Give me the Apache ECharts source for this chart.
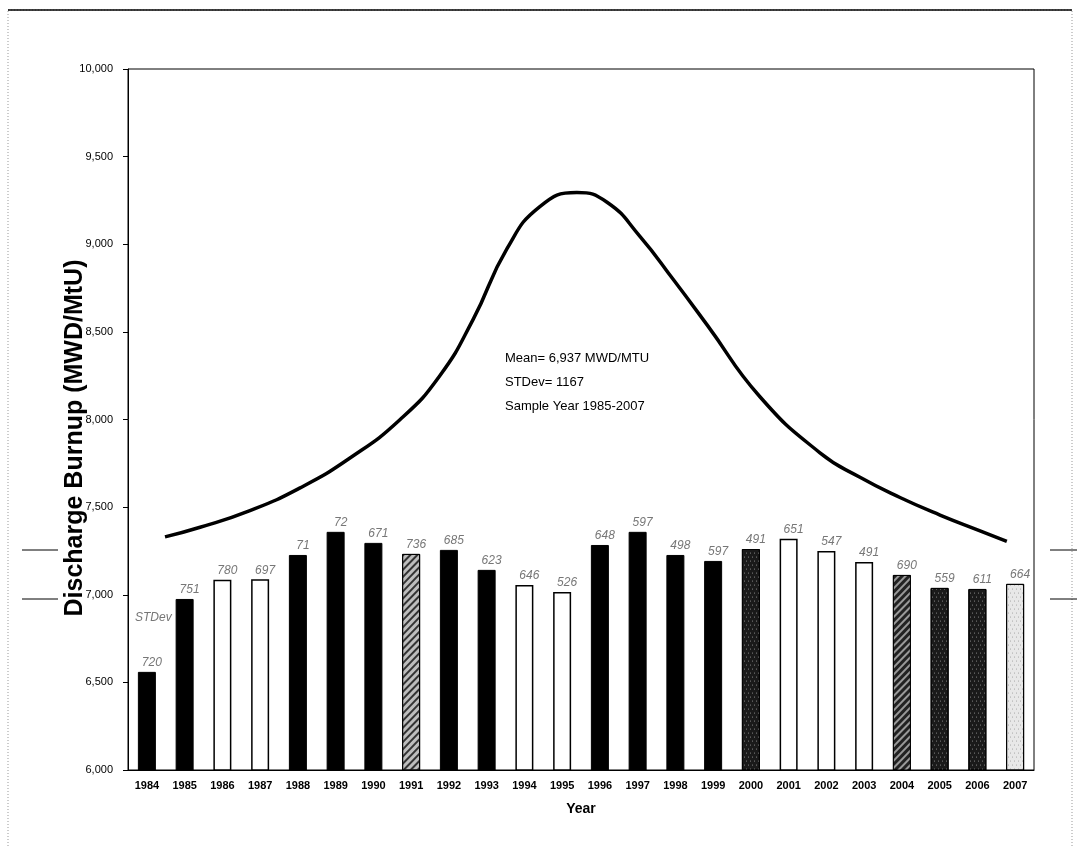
<!DOCTYPE html>
<html>
<head>
<meta charset="utf-8">
<script src="https://cdn.jsdelivr.net/npm/echarts@6/dist/echarts.min.js"></script>
<style>
  html, body { margin: 0; padding: 0; background: #fff; }
  #chart { width: 1077px; height: 848px; }
</style>
</head>
<body>
<div id="chart"></div>
<script>
// years on the x axis
var years = ['1984', '1985', '1986', '1987', '1988', '1989', '1990', '1991', '1992', '1993', '1994', '1995',
  '1996', '1997', '1998', '1999', '2000', '2001', '2002', '2003', '2004', '2005', '2006', '2007'];
// mean discharge burnup per year (MWD/MtU)
var burnup = [6560, 6976, 7085, 7088, 7227, 7359, 7296, 7233, 7256, 7142, 7056, 7016,
  7284, 7359, 7227, 7193, 7261, 7319, 7250, 7187, 7113, 7039, 7033, 7062];
// stdev label over each bar
var stdev = ['720', '751', '780', '697', '71', '72', '671', '736', '685', '623', '646', '526',
  '648', '597', '498', '597', '491', '651', '547', '491', '690', '559', '611', '664'];
// distribution curve, x in years
var curveYear = [1984.48, 1985.41, 1986.73, 1988.06, 1989.38, 1990.71, 1991.76, 1992.64, 1993.54, 1994.41,
  1995.39, 1996.19, 1997.06, 1997.94, 1998.84, 2000.24, 2001.83, 2002.89,
  2003.95, 2005.01, 2006.07, 2006.78];
var curveValue = [7330, 7385, 7480, 7610, 7780, 8000, 8250, 8570, 8975, 9215,
  9295, 9240, 9045, 8800, 8540, 8130, 7810, 7670,
  7555, 7455, 7365, 7305];
var yTicks = [6000, 10000, 500];

// fill kind per bar (style only)
var fillKind = ['black', 'black', 'white', 'white', 'black', 'black', 'black', 'hatch', 'black', 'black', 'white', 'white',
  'black', 'black', 'black', 'black', 'dots', 'white', 'white', 'white', 'darkhatch', 'dots', 'dots', 'lightdots'];

var styles = {
  black: { color: '#000', borderColor: '#000', borderWidth: 1 },
  white: { color: '#fff', borderColor: '#000', borderWidth: 1.5 },
  hatch: { color: '#bdbdbd', borderColor: '#000', borderWidth: 1,
    decal: { symbol: 'rect', symbolSize: 1, color: '#333', dashArrayX: [1, 0], dashArrayY: [2, 3], rotation: -0.8 } },
  dots: { color: '#1a1a1a', borderColor: '#000', borderWidth: 1,
    decal: { symbol: 'circle', symbolSize: 1, color: '#aaa', dashArrayX: [[1, 3], [0, 2, 1, 1]], dashArrayY: [2, 2] } },
  darkhatch: { color: '#222', borderColor: '#000', borderWidth: 1,
    decal: { symbol: 'rect', symbolSize: 1, color: '#999', dashArrayX: [1, 0], dashArrayY: [2, 3], rotation: -0.8 } },
  lightdots: { color: '#e8e8e8', borderColor: '#000', borderWidth: 1,
    decal: { symbol: 'circle', symbolSize: 0.8, color: '#555', dashArrayX: [[1, 3], [0, 2, 1, 1]], dashArrayY: [2, 2] } }
};

var narrow = '"Liberation Sans Narrow", "Liberation Sans", Arial, sans-serif';

var barData = burnup.map(function (v, i) {
  return { value: v, itemStyle: styles[fillKind[i]] };
});
var curveData = curveYear.map(function (x, i) { return [x, curveValue[i]]; });

var chart = echarts.init(document.getElementById('chart'));
var option = {
  backgroundColor: '#fff',
  animation: false,
  grid: { left: 128, right: 43, top: 69, bottom: 78, show: true, borderColor: '#000', borderWidth: 1 },
  xAxis: [{
    type: 'category',
    data: years,
    name: 'Year',
    nameLocation: 'middle',
    nameGap: 32,
    nameTextStyle: { fontFamily: narrow, fontSize: 14, fontWeight: 'bold', color: '#000' },
    axisLine: { lineStyle: { color: '#000' } },
    axisTick: { show: false },
    axisLabel: { fontFamily: narrow, fontSize: 11, fontWeight: 'bold', color: '#000', margin: 10 }
  }, {
    type: 'value',
    min: 1983.5,
    max: 2007.5,
    show: false
  }],
  yAxis: {
    type: 'value',
    min: yTicks[0],
    max: yTicks[1],
    interval: yTicks[2],
    axisLine: { show: true, lineStyle: { color: '#000' } },
    axisTick: { show: true, inside: false, length: 5, lineStyle: { color: '#000' } },
    splitLine: { show: false },
    axisLabel: {
      fontFamily: narrow, fontSize: 11, color: '#000', margin: 15,
      formatter: function (v) { return v.toLocaleString('en-US'); }
    }
  },
  series: [{
    type: 'bar',
    xAxisIndex: 0,
    data: barData,
    barWidth: 18,
    label: {
      show: true,
      position: 'top',
      distance: 3,
      offset: [5, 0],
      fontFamily: narrow,
      fontStyle: 'italic',
      fontSize: 12,
      color: '#777',
      formatter: function (p) { return stdev[p.dataIndex]; }
    }
  }, {
    type: 'line',
    xAxisIndex: 1,
    data: curveData,
    smooth: 0.5,
    showSymbol: false,
    lineStyle: { color: '#000', width: 3.5 },
    z: 3
  }],
  graphic: [
    { type: 'rect', shape: { x: 8, y: 10, width: 1064, height: 860 }, style: { fill: 'none', stroke: '#999', lineWidth: 1, lineDash: [1, 2] }, silent: true },
    { type: 'line', shape: { x1: 8, y1: 10, x2: 1072, y2: 10 }, style: { stroke: '#000', lineWidth: 1.5 } },
    { type: 'line', shape: { x1: 22, y1: 550, x2: 58, y2: 550 }, style: { stroke: '#000', lineWidth: 1 } },
    { type: 'line', shape: { x1: 22, y1: 599, x2: 58, y2: 599 }, style: { stroke: '#000', lineWidth: 1 } },
    { type: 'line', shape: { x1: 1050, y1: 550, x2: 1077, y2: 550 }, style: { stroke: '#000', lineWidth: 1 } },
    { type: 'line', shape: { x1: 1050, y1: 599, x2: 1077, y2: 599 }, style: { stroke: '#000', lineWidth: 1 } },
    // y axis title, placed by hand so it sits close to the tick labels
    { type: 'text', x: 75, y: 438, rotation: Math.PI / 2,
      style: { text: 'Discharge Burnup (MWD/MtU)', font: 'bold 25px ' + narrow, fill: '#000', align: 'center', verticalAlign: 'middle' } },
    { type: 'text', left: 135, top: 612, style: { text: 'STDev', font: 'italic 12px ' + narrow, fill: '#777' } },
    { type: 'text', left: 505, top: 346, style: { text: 'Mean= 6,937 MWD/MTU\nSTDev= 1167\nSample Year 1985-2007', font: '13px ' + narrow, fill: '#000', lineHeight: 24 } }
  ]
};
chart.setOption(option);
</script>
</body>
</html>
